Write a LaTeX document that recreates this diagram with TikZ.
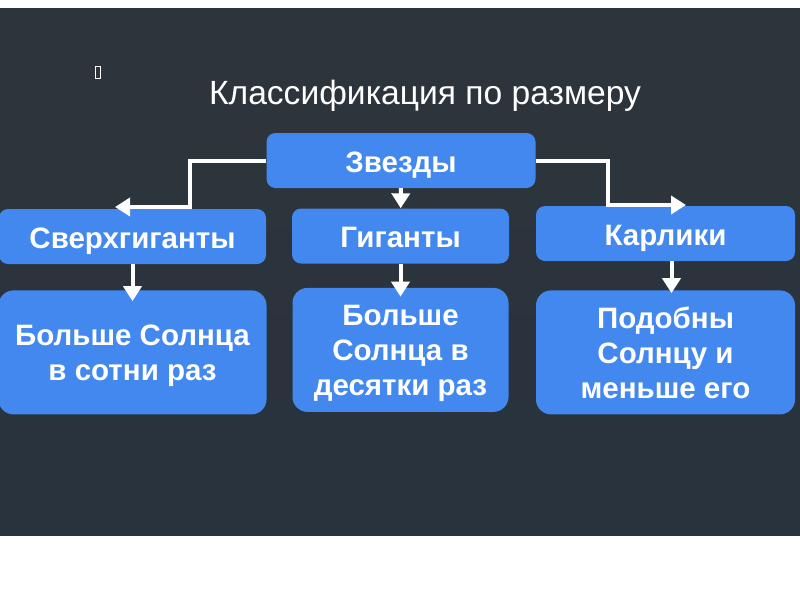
\documentclass[tikz,border=0pt]{standalone}
\usepackage{fontspec}
\setmainfont{Liberation Sans}
\usepackage{tikz}
\usetikzlibrary{arrows.meta,positioning,backgrounds}

\definecolor{slide}{HTML}{2E343C}
\definecolor{slidelow}{HTML}{28333D}
\definecolor{boxblue}{HTML}{4288EE}

\begin{document}
\begin{tikzpicture}
%defines
  [x=1pt,y=-1pt,
head/.style={rectangle,rounded corners=9pt,fill=boxblue,text=white,
inner sep=0pt,minimum height=55pt,text height=24pt,text depth=1pt,
font=\fontsize{29.5}{34}\selectfont\bfseries},
leaf/.style={rectangle,rounded corners=15pt,fill=boxblue,text=white,
inner sep=0pt,minimum height=124pt,align=center,text depth=0pt,
font=\fontsize{29.5}{35}\selectfont\bfseries},
link/.style={draw=white,line width=4pt,-{Triangle[width=18pt,length=15pt]}}]
\useasboundingbox (0,0) rectangle (800,600);
\fill[top color=slide,bottom color=slidelow] (0,8) rectangle (800,535);
\draw[white!70,line width=0.6pt] (95,66) rectangle (100,78);
%nodes
\node[text=white,font=\fontsize{33.6}{38}\selectfont] (title) at (425,95.5) {Классификация по размеру};
\node[head,minimum width=269pt] (stars)       at (401,160.5) {Звезды};
\node[head,minimum width=267pt] (supergiants) at (132.5,236.5) {Сверхгиганты};
\node[head,minimum width=217pt] (giants)      at (400.5,236) {Гиганты};
\node[head,minimum width=259pt] (dwarfs)      at (665.5,233.5) {Карлики};
\node[leaf,minimum width=268pt] (bigleft)  [below=26pt of supergiants] {Больше Солнца\\в сотни раз};
\node[leaf,minimum width=216pt] (bigmid)   [below=24pt of giants] {Больше\\Солнца в\\десятки раз};
\node[leaf,minimum width=259pt] (bigright) [below=29pt of dwarfs] {Подобны\\Солнцу и\\меньше его};
\coordinate (leftbend)  at (190,207);
\coordinate (lefttip)   at (115,207);
\coordinate (rightbend) at (608,205);
\coordinate (righttip)  at (686,205);
%links
\draw [link] (stars.west) -| (leftbend) -- (lefttip);
\draw [link] (stars.east) -| (rightbend) -- (righttip);
\draw [link] (stars) -- (giants);
\draw [link,shorten >=-11pt] (supergiants) -- (bigleft);
\draw [link,shorten >=-9pt] (giants) -- (bigmid);
\draw [link] ([xshift=6pt]dwarfs.south) -- ([xshift=6pt,yshift=-3pt]bigright.north);
\end{tikzpicture}
\end{document}
